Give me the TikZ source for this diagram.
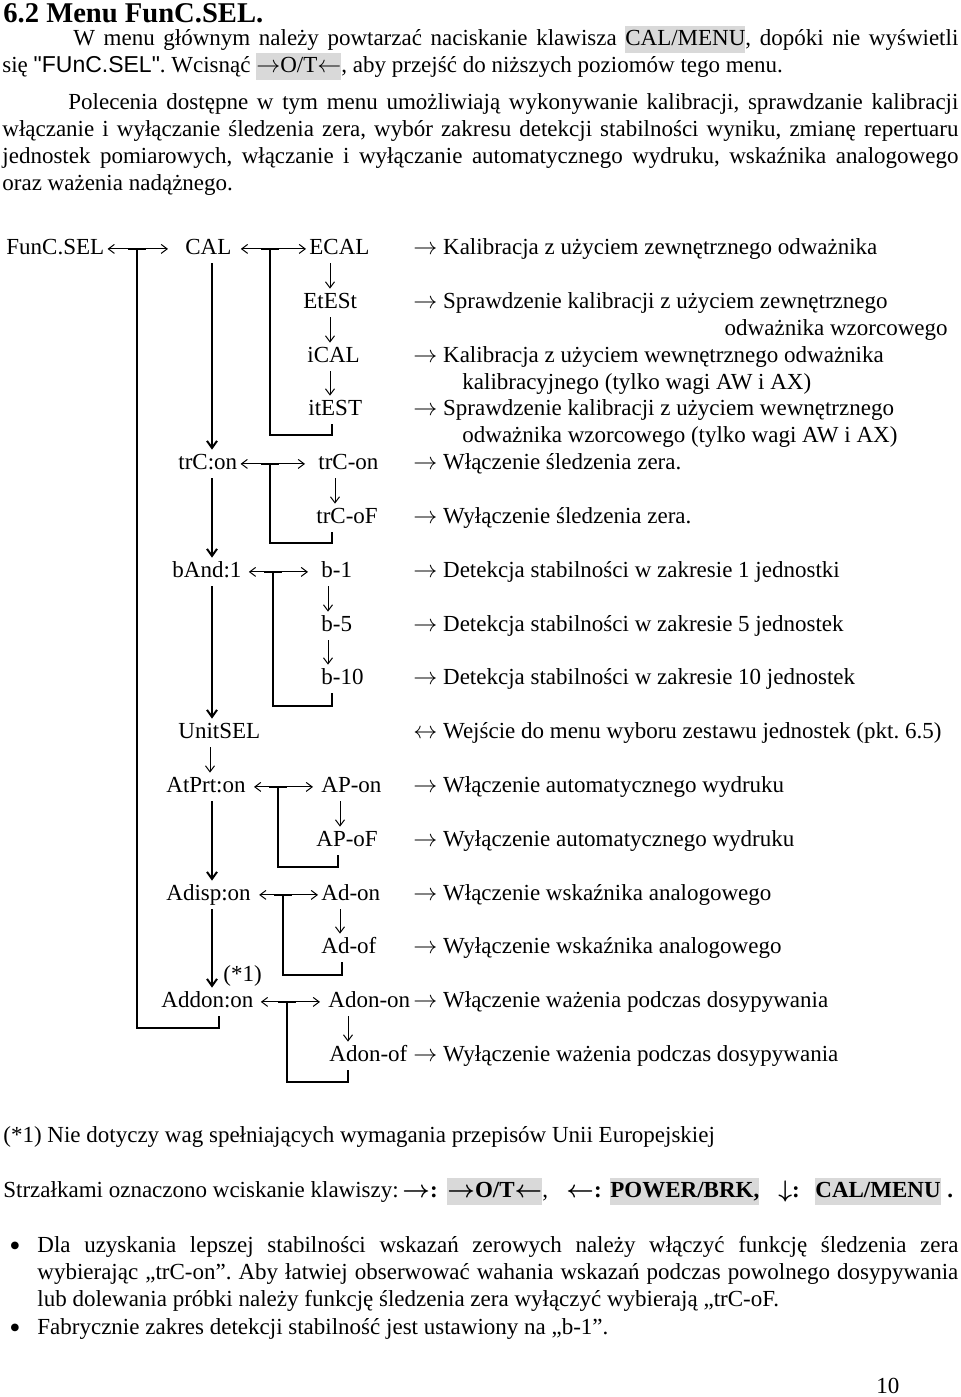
\documentclass[tikz,border=0pt]{standalone}
\usepackage{fontspec}
\setmainfont{Liberation Serif}
\setsansfont{Liberation Sans}
\newfontfamily\arialfont{Liberation Sans}
\usetikzlibrary{arrows.meta}
\definecolor{keygray}{gray}{0.85}
\newcommand{\keybox}[1]{{\setlength{\fboxsep}{0pt}\colorbox{keygray}{\strut #1}}}
\newcommand{\fitline}[2]{\hbox to #1{\spaceskip=2.9pt plus 6pt minus 1.3pt\relax #2}}
\newcommand{\ra}{$\rightarrow$}
\newcommand{\la}{$\leftarrow$}
\frenchspacing

\begin{document}
\begin{tikzpicture}[x=0.5pt, y=-0.5pt,
  every node/.style={font=\fontsize{11.5}{13.45}\selectfont, inner sep=0pt},
  txt/.style={anchor=base west},
  item/.style={anchor=base west, inner sep=1.5pt, text height=8pt, text depth=2.9pt},
  thin/.style={line width=0.5pt},
  lr/.style={thin, {Straight Barb[length=3pt,width=4.5pt]}-{Straight Barb[length=3pt,width=4.5pt]}},
  dn/.style={thin, -{Straight Barb[length=3pt,width=4.5pt]}},
  bk/.style={line width=1pt},
  dnl/.style={bk, -{Straight Barb[length=3.5pt,width=5pt]}},
  tee/.style={line width=1.3pt}]
\useasboundingbox (0,0) rectangle (960,1397);
%
% ---- Header ----
\node[txt, font=\fontsize{14.3}{17}\selectfont\bfseries] (title) at (3,23) {6.2 Menu FunC.SEL.};
\node[txt] (intro1) at (2,45) {\fitline{478pt}{\hspace*{35.5pt}W menu głównym należy
  powtarzać naciskanie klawisza \keybox{CAL/MENU}, dopóki nie wyświetli}};
\node[txt] (intro2) at (2,72) {się {\arialfont"FUnC.SEL"}. Wcisnąć \keybox{\ra O/T\la},
  aby przejść do niższych poziomów tego menu.};
\node[txt] (sum1) at (2,109) {\fitline{478pt}{\hspace*{33pt}Polecenia dostępne w tym menu
  umożliwiają wykonywanie kalibracji, sprawdzanie kalibracji}};
\node[txt] (sum2) at (2,136) {\fitline{478pt}{włączanie i wyłączanie śledzenia zera, wybór
  zakresu detekcji stabilności wyniku, zmianę repertuaru}};
\node[txt] (sum3) at (2,163) {\fitline{478pt}{jednostek pomiarowych, włączanie i wyłączanie
  automatycznego wydruku, wskaźnika analogowego}};
\node[txt] (sum4) at (2,190) {oraz ważenia nadążnego.};
%
% ---- Menu levels ----
\node[item] (FunC) at (3,254) {FunC.SEL};
\node[item] (CAL) at (182,254) {CAL};
\node[item] (trCon) at (175,469) {trC:on};
\node[item] (bAnd) at (169,577) {bAnd:1};
\node[item] (UnitSEL) at (175,738) {UnitSEL};
\node[item] (AtPrt) at (163,792) {AtPrt:on};
\node[item] (Adisp) at (163,900) {Adisp:on};
\node[txt] (note1) at (223,981) {(*1)};
\node[item] (Addon) at (158,1007) {Addon:on};
%
% ---- Settings ----
\node[item] (ECAL) at (306,254) {ECAL};
\node[item] (EtESt) at (300,308) {EtESt};
\node[item] (iCAL) at (304,362) {iCAL};
\node[item] (itEST) at (305,415) {itEST};
\node[item] (trCOn) at (315,469) {trC-on};
\node[item] (trCoF) at (313,523) {trC-oF};
\node[item] (b1) at (318,577) {b-1};
\node[item] (b5) at (318,631) {b-5};
\node[item] (b10) at (318,684) {b-10};
\node[item] (APon) at (318,792) {AP-on};
\node[item] (APoF) at (313,846) {AP-oF};
\node[item] (Adon) at (318,900) {Ad-on};
\node[item] (Adof) at (318,953) {Ad-of};
\node[item] (AdonOn) at (325,1007) {Adon-on};
\node[item] (AdonOf) at (326,1061) {Adon-of};
%
% ---- Descriptions ----
\node[txt] (d0) at (413,254) {\ra{} Kalibracja z użyciem zewnętrznego odważnika};
\node[txt] (d2) at (413,308) {\ra{} Sprawdzenie kalibracji z użyciem zewnętrznego};
\node[txt, anchor=base east] (d3) at (948,335) {odważnika wzorcowego};
\node[txt] (d4) at (413,362) {\ra{} Kalibracja z użyciem wewnętrznego odważnika};
\node[txt] (d5) at (462,389) {kalibracyjnego (tylko wagi AW i AX)};
\node[txt] (d6) at (413,415) {\ra{} Sprawdzenie kalibracji z użyciem wewnętrznego};
\node[txt] (d7) at (462,442) {odważnika wzorcowego (tylko wagi AW i AX)};
\node[txt] (d8) at (413,469) {\ra{} Włączenie śledzenia zera.};
\node[txt] (d10) at (413,523) {\ra{} Wyłączenie śledzenia zera.};
\node[txt] (d12) at (413,577) {\ra{} Detekcja stabilności w zakresie 1 jednostki};
\node[txt] (d14) at (413,631) {\ra{} Detekcja stabilności w zakresie 5 jednostek};
\node[txt] (d16) at (413,684) {\ra{} Detekcja stabilności w zakresie 10 jednostek};
\node[txt] (d18) at (413,738) {$\leftrightarrow$ Wejście do menu wyboru zestawu jednostek (pkt. 6.5)};
\node[txt] (d20) at (413,792) {\ra{} Włączenie automatycznego wydruku};
\node[txt] (d22) at (413,846) {\ra{} Wyłączenie automatycznego wydruku};
\node[txt] (d24) at (413,900) {\ra{} Włączenie wskaźnika analogowego};
\node[txt] (d26) at (413,953) {\ra{} Wyłączenie wskaźnika analogowego};
\node[txt] (d28) at (413,1007) {\ra{} Włączenie ważenia podczas dosypywania};
\node[txt] (d30) at (413,1061) {\ra{} Wyłączenie ważenia podczas dosypywania};
%
% ---- Junctions and columns ----
\coordinate (j0) at (137,249);
\coordinate (j1) at (270,249);
\coordinate (j2) at (270,464);
\coordinate (j3) at (273,572);
\coordinate (j4) at (278,787);
\coordinate (j5) at (283,895);
\coordinate (j6) at (287,1002);
\coordinate (r0) at (219,1028);
\coordinate (r1) at (332,435);
\coordinate (r2) at (332,543);
\coordinate (r3) at (332,706);
\coordinate (r4) at (338,867);
\coordinate (r5) at (342,975);
\coordinate (r6) at (348,1082);
\coordinate (aL) at (212,0);
\coordinate (aU) at (210,0);
\coordinate (a1) at (330,0);
\coordinate (a2) at (335,0);
\coordinate (a3) at (328,0);
\coordinate (a4) at (340,0);
\coordinate (a6) at (348,0);
%
% ---- Left / right keys ----
\draw[lr, shorten >=7pt] (FunC) -- (CAL);
\draw[lr, shorten <=3pt] (CAL) -- (ECAL);
\draw[lr, shorten >=5pt] (trCon) -- (trCOn);
\draw[lr, shorten <=2pt, shorten >=5pt] (bAnd) -- (b1);
\draw[lr, shorten <=2.5pt, shorten >=2.5pt] (AtPrt) -- (APon);
\draw[lr, shorten <=2.5pt] (Adisp) -- (Adon);
\draw[lr, shorten <=2pt, shorten >=2.5pt] (Addon) -- (AdonOn);
%
% ---- Return brackets ----
\draw[tee] ([xshift=-4.5pt]j0) -- ([xshift=4.5pt]j0);
\draw[tee] ([xshift=-4.5pt]j1) -- ([xshift=4.5pt]j1);
\draw[tee] ([xshift=-4.5pt]j2) -- ([xshift=4.5pt]j2);
\draw[tee] ([xshift=-4.5pt]j3) -- ([xshift=4.5pt]j3);
\draw[tee] ([xshift=-4.5pt]j4) -- ([xshift=4.5pt]j4);
\draw[tee] ([xshift=-4.5pt]j5) -- ([xshift=4.5pt]j5);
\draw[tee] ([xshift=-4.5pt]j6) -- ([xshift=4.5pt]j6);
\draw[bk] (j0) |- (r0) -- (r0 |- Addon.south);
\draw[bk] (j1) |- (r1) -- (r1 |- itEST.south);
\draw[bk] (j2) |- (r2) -- (r2 |- trCoF.south);
\draw[bk] (j3) |- (r3) -- (r3 |- b10.south);
\draw[bk] (j4) |- (r4) -- (r4 |- APoF.south);
\draw[bk] (j5) |- (r5) -- (r5 |- Adof.south);
\draw[bk] (j6) |- (r6) -- (r6 |- AdonOf.south);
%
% ---- Down keys ----
\draw[dnl] (CAL.south -| aL) -- (trCon.north -| aL);
\draw[dnl] (trCon.south -| aL) -- (bAnd.north -| aL);
\draw[dnl] (bAnd.south -| aL) -- (UnitSEL.north -| aL);
\draw[dn] (UnitSEL.south -| aU) -- (AtPrt.north -| aU);
\draw[dnl] (AtPrt.south -| aL) -- (Adisp.north -| aL);
\draw[dnl] (Adisp.south -| aL) -- (Addon.north -| aL);
\draw[dn] (ECAL.south -| a1) -- (EtESt.north -| a1);
\draw[dn] (EtESt.south -| a1) -- (iCAL.north -| a1);
\draw[dn] (iCAL.south -| a1) -- (itEST.north -| a1);
\draw[dn] (trCOn.south -| a2) -- (trCoF.north -| a2);
\draw[dn] (b1.south -| a3) -- (b5.north -| a3);
\draw[dn] (b5.south -| a3) -- (b10.north -| a3);
\draw[dn] (APon.south -| a4) -- (APoF.north -| a4);
\draw[dn] (Adon.south -| a4) -- (Adof.north -| a4);
\draw[dn] (AdonOn.south -| a6) -- (AdonOf.north -| a6);
%
% ---- Notes ----
\node[txt] (note) at (3,1142) {(*1) Nie dotyczy wag spełniających wymagania przepisów Unii Europejskiej};
\node[txt] (keys) at (3,1197) {Strzałkami oznaczono wciskanie klawiszy:};
\node[txt] (keyR) at (402,1197) {\textbf{{\boldmath\ra}:}};
\node[txt] (boxR) at (447,1197) {\keybox{\textbf{{\boldmath\ra}O/T{\boldmath\la}}}};
\node[txt] (comma) at (542,1197) {,};
\node[txt] (keyL) at (566,1197) {\textbf{{\boldmath\la}:}};
\node[txt] (boxL) at (610,1197) {\keybox{\textbf{POWER/BRK,}}};
\node[txt] (keyD) at (778,1197) {\textbf{{\boldmath$\downarrow$}:}};
\node[txt] (boxD) at (815,1197) {\keybox{\textbf{CAL/MENU}}};
\node[txt] (stop) at (947,1197) {\textbf{.}};
\node[txt, font=\fontsize{16}{16}\selectfont] (dot1) at (9,1256) {•};
\node[txt] (tip1a) at (37,1252) {\fitline{460.5pt}{Dla uzyskania lepszej stabilności wskazań
  zerowych należy włączyć funkcję śledzenia zera}};
\node[txt] (tip1b) at (37,1279) {\fitline{460.5pt}{wybierając „trC-on”. Aby łatwiej obserwować
  wahania wskazań podczas powolnego dosypywania}};
\node[txt] (tip1c) at (37,1306) {lub dolewania próbki należy funkcję śledzenia zera wyłączyć
  wybierają „trC-oF.};
\node[txt, font=\fontsize{16}{16}\selectfont] (dot2) at (9,1338) {•};
\node[txt] (tip2) at (37,1334) {Fabrycznie zakres detekcji stabilność jest ustawiony na „b-1”.};
\node[txt] (page) at (876,1393) {10};
\end{tikzpicture}
\end{document}
